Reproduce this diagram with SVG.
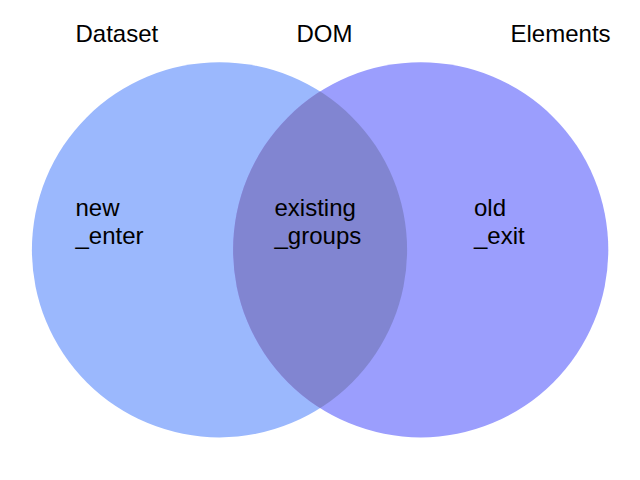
<svg xmlns="http://www.w3.org/2000/svg" width="640" height="480" viewBox="0 0 640 480">
<style>
text{font-family:"Liberation Sans",Arial,sans-serif;font-size:24px;fill:#000}
.left{fill:#9bb8fd}
.right{fill:#9b9efd}
.both{fill:#8185d1}
</style>
<defs>
<clipPath id="clipLeft"><circle cx="219.5" cy="249.8" r="187.6"/></clipPath>
</defs>
<rect width="640" height="480" fill="#fff"/>
<g id="set-dataset">
<circle class="left" cx="219.5" cy="249.8" r="187.6"/>
<text x="75.5" y="42">Dataset</text>
</g>
<g id="set-elements">
<circle class="right" cx="420.7" cy="249.8" r="187.6"/>
<text x="510.5" y="42">Elements</text>
</g>
<g id="set-dom">
<circle class="both" cx="420.7" cy="249.8" r="187.6" clip-path="url(#clipLeft)"/>
<text x="296.5" y="42">DOM</text>
</g>
<g id="region-new-enter">
<text x="75.5" y="216">new</text>
<text x="75.5" y="244">_enter</text>
</g>
<g id="region-existing-groups">
<text x="274.5" y="216">existing</text>
<text x="274.5" y="244">_groups</text>
</g>
<g id="region-old-exit">
<text x="474" y="216">old</text>
<text x="474" y="244">_exit</text>
</g>
<g id="connectors"/>
</svg>
